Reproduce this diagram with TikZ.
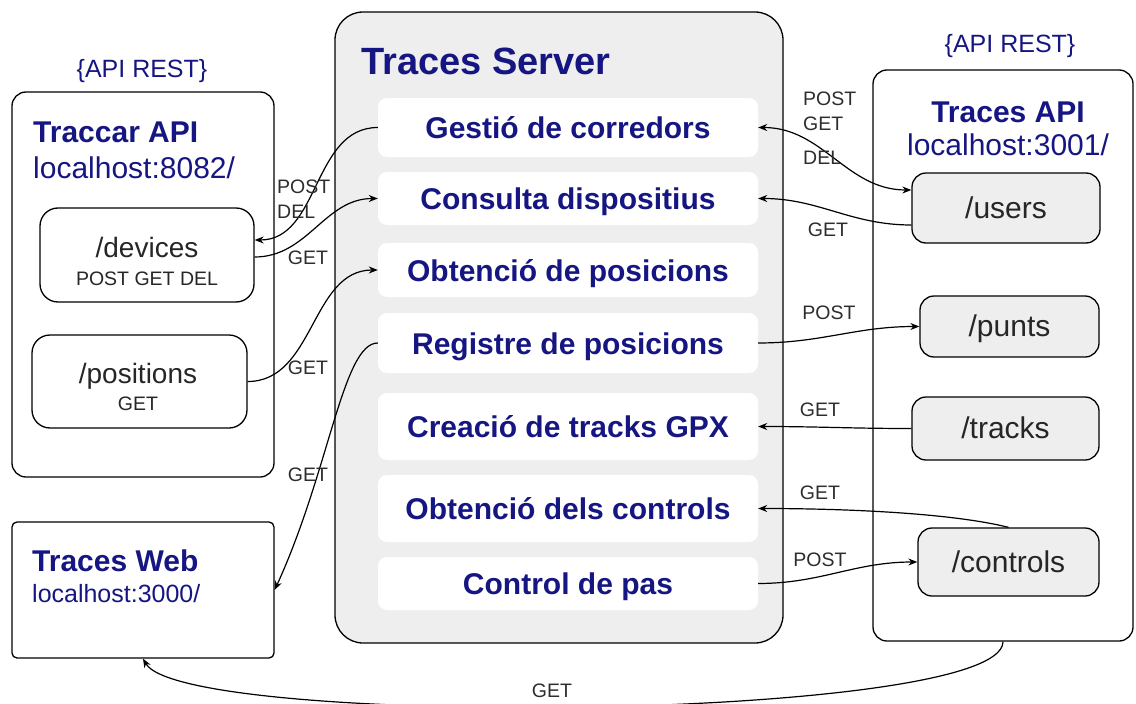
\documentclass[tikz,border=0pt]{standalone}
\usepackage{fontspec}
\setmainfont{Liberation Sans}
\usetikzlibrary{arrows.meta}

\definecolor{darkblue}{RGB}{22,22,130}
\definecolor{boxgray}{RGB}{238,238,238}
\definecolor{labelgray}{RGB}{45,45,45}

\begin{document}
\begin{tikzpicture}[x=1pt,y=-1pt,>={Stealth[length=9pt,width=7pt]},
  box/.style={draw,line width=1.3pt,rounded corners=14pt},
  func/.style={fill=white,rounded corners=9pt,minimum width=380pt,text height=22pt,text depth=0pt,text=darkblue,font=\fontsize{30}{36}\selectfont\bfseries},
  res/.style={box,fill=boxgray,text=black!85,text height=20pt,text depth=0pt,font=\fontsize{30}{36}\selectfont},
  boxtitle/.style={text=darkblue,font=\fontsize{30}{36}\selectfont\bfseries,inner sep=0pt},
  host/.style={text=darkblue,font=\fontsize{30}{36}\selectfont,inner sep=0pt},
  verb/.style={text=labelgray,font=\fontsize{19.5}{25}\selectfont,inner sep=0pt},
  conn/.style={line width=1.2pt}]

\useasboundingbox (0,0) rectangle (1136,704);

% Traccar API
\node [host, font=\fontsize{25}{30}\selectfont, anchor=base] (restleft) at (142,77) {\{API REST\}};
\node [box, minimum width=262pt, minimum height=385pt] (traccar) at (143,284.5) {};
\node [boxtitle, anchor=base west] (traccartitle) at (33,142) {Traccar API};
\node [host, anchor=base west] (traccarhost) at (33,178) {localhost:8082/};

\node [box, rounded corners=18pt, minimum width=214pt, minimum height=94pt] (devices) at (147,255) {};
\node [anchor=base, inner sep=0pt, text=black!85, font=\fontsize{28}{32}\selectfont] (devicesname) at (147,257) {/devices};
\node [anchor=base, inner sep=0pt, text=black!85, font=\fontsize{19.5}{24}\selectfont] (devicesverbs) at (147,285) {POST GET DEL};

\node [box, rounded corners=18pt, minimum width=215pt, minimum height=93pt] (positions) at (139.5,381.5) {};
\node [anchor=base, inner sep=0pt, text=black!85, font=\fontsize{28}{32}\selectfont] (positionsname) at (138,383) {/positions};
\node [anchor=base, inner sep=0pt, text=black!85, font=\fontsize{19.5}{24}\selectfont] (positionsverbs) at (138,410) {GET};

% Traces Web
\node [box, rounded corners=5pt, minimum width=262pt, minimum height=136pt] (web) at (143,590) {};
\node [boxtitle, anchor=base west] (webtitle) at (32,571) {Traces Web};
\node [host, font=\fontsize{25}{30}\selectfont, anchor=base west] (webhost) at (32,602) {localhost:3000/};

% Traces Server
\node [box, fill=boxgray, rounded corners=28pt, minimum width=448pt, minimum height=631pt] (server) at (559,327.5) {};
\node [boxtitle, font=\fontsize{38}{44}\selectfont\bfseries, anchor=base west] (servertitle) at (361,74) {Traces Server};

\node [func, minimum height=59pt] (gestio) at (568,127.5) {Gestió de corredors};
\node [func, minimum height=53pt] (consulta) at (568,198.5) {Consulta dispositius};
\node [func, minimum height=54pt] (obtpos) at (568,270) {Obtenció de posicions};
\node [func, minimum height=60pt] (registre) at (568,343) {Registre de posicions};
\node [func, minimum height=67pt] (creacio) at (568,426.5) {Creació de tracks GPX};
\node [func, minimum height=67pt] (obtctrl) at (568,508.5) {Obtenció dels controls};
\node [func, minimum height=53pt] (controlpas) at (568,583.5) {Control de pas};

% Traces API
\node [host, font=\fontsize{25}{30}\selectfont, anchor=base] (restright) at (1010,52) {\{API REST\}};
\node [box, minimum width=260pt, minimum height=571pt] (tracesapi) at (1003,355.5) {};
\node [boxtitle, anchor=base] (apititle) at (1008,122) {Traces API};
\node [host, anchor=base] (apihost) at (1008,155) {localhost:3001/};

\node [res, minimum width=188pt, minimum height=70pt] (users) at (1006,208) {/users};
\node [res, minimum width=179pt, minimum height=61pt] (punts) at (1009.5,326.5) {/punts};
\node [res, minimum width=187pt, minimum height=63pt] (tracks) at (1005.5,428.5) {/tracks};
\node [res, minimum width=181pt, minimum height=68pt] (controls) at (1008.5,562) {/controls};

% connectors
\draw [conn,->] (gestio.west) to[out=180,in=0] ([yshift=15pt]devices.east);
\draw [conn,->] ([yshift=-2pt]devices.east) to[out=0,in=180] (consulta.west);
\draw [conn,->] (positions.east) to[out=0,in=180] (obtpos.west);
\draw [conn,->] (registre.west) .. controls +(-35,0) and +(55,-120) .. (web.east);

\draw [conn,<->] ([yshift=18pt]users.west) to[out=180,in=0] (gestio.east);
\draw [conn,->] ([yshift=-17pt]users.west) to[out=180,in=0] (consulta.east);
\draw [conn,->] (registre.east) to[out=0,in=180] (punts.west);
\draw [conn,->] (tracks.west) to[out=180,in=0] (creacio.east);
\draw [conn,->] (controls.north) .. controls +(-60,-15) and +(80,0) .. (obtctrl.east);
\draw [conn,->] (controlpas.east) to[out=0,in=180] (controls.west);
\draw [conn,->] (tracesapi.south) .. controls +(0,80) and +(40,70) .. (web.south);

% verbs
\node [verb, anchor=north west, align=left] (verbgestio) at (277,180) {POST\\DEL};
\node [verb] (verbconsulta) at (308,258) {GET};
\node [verb] (verbobtpos) at (308,368) {GET};
\node [verb] (verbweb) at (308,475) {GET};
\node [verb, anchor=north west, align=left] (verbusers) at (803,91.5) {POST\\GET\\[9pt]DEL};
\node [verb] (verbusersget) at (828,230) {GET};
\node [verb] (verbpunts) at (829,313) {POST};
\node [verb] (verbtracks) at (820,410) {GET};
\node [verb] (verbctrlget) at (820,493) {GET};
\node [verb] (verbctrlpost) at (820,560) {POST};
\node [verb] (verbbottom) at (552,691) {GET};

\end{tikzpicture}
\end{document}
